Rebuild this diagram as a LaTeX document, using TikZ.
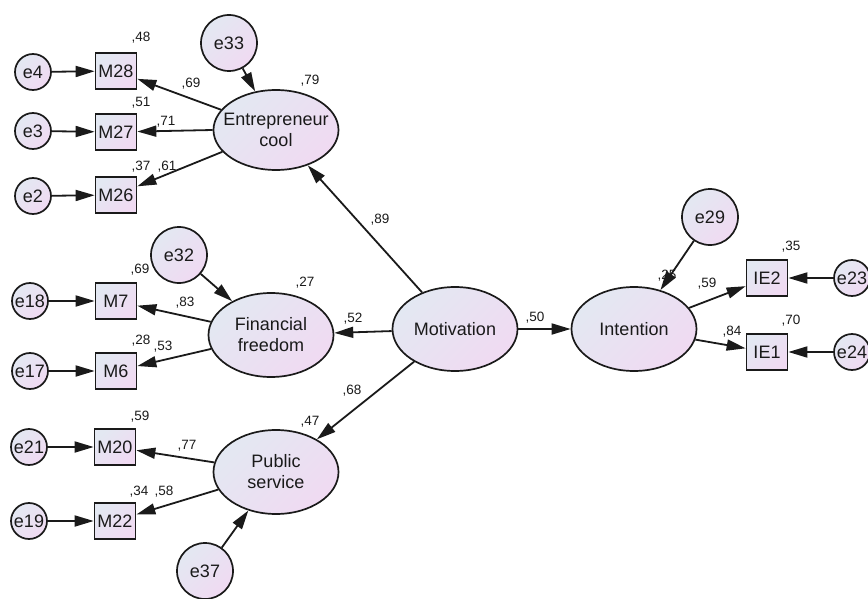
\documentclass[tikz,border=0pt]{standalone}
\usepackage{fontspec}
\setmainfont{Liberation Sans}
\usetikzlibrary{arrows.meta,shapes.geometric}
\definecolor{fillA}{HTML}{E3E8F2}
\definecolor{fillB}{HTML}{F0DAF2}
\definecolor{inkc}{HTML}{1A1A1A}
\begin{document}
\begin{tikzpicture}[x=1pt,y=-1pt,
 base/.style={draw=inkc,line width=1.7pt,top color=fillA,bottom color=fillB,shading angle=45,inner sep=0pt,text=inkc},
 lat/.style={base,ellipse,minimum width=125pt,minimum height=84pt,align=center,font=\fontsize{18}{21}\selectfont},
 err/.style={base,circle,minimum size=56pt,font=\fontsize{18}{21}\selectfont},
 serr/.style={base,circle,minimum size=36pt,font=\fontsize{18}{21}\selectfont},
 obs/.style={base,rectangle,minimum width=41pt,minimum height=36pt,font=\fontsize{18}{21}\selectfont},
 arr/.style={draw=inkc,line width=1.8pt,-{Triangle[length=19pt,width=11pt]}},
 lbl/.style={font=\fontsize{13.5}{15}\selectfont,inner sep=0pt,text=inkc}
]
\useasboundingbox (0,0) rectangle (868,599);
\clip (0,0) rectangle (868,599);
\fill[white] (0,0) rectangle (868,599);
% Entrepreneur cool block
\node[serr] (e4) at (33,72) {e4};
\node[serr] (e3) at (33,131) {e3};
\node[serr] (e2) at (33,196) {e2};
\node[obs] (M28) at (116,71) {M28};
\node[obs] (M27) at (116,132) {M27};
\node[obs] (M26) at (116,195) {M26};
\node[lat,minimum height=80pt,inner xsep=-9pt] (EC) at (276,130) {Entrepreneur\\cool};
\node[err] (e33) at (229,43) {e33};
% Financial freedom block
\node[err] (e32) at (179,255) {e32};
\node[serr] (e18) at (30,301) {e18};
\node[obs] (M7) at (116,301) {M7};
\node[serr] (e17) at (30,371) {e17};
\node[obs] (M6) at (116,371) {M6};
\node[lat] (FF) at (271,335) {Financial\\freedom};
% Public service block
\node[serr] (e21) at (29,447) {e21};
\node[obs] (M20) at (115,447) {M20};
\node[serr] (e19) at (29,521) {e19};
\node[obs] (M22) at (115,521) {M22};
\node[lat] (PS) at (276,472) {Public\\service};
\node[err] (e37) at (205,571) {e37};
% Motivation / Intention
\node[lat] (MO) at (455,329) {Motivation};
\node[lat] (IN) at (634,329) {Intention};
\node[err] (e29) at (710,217) {e29};
\node[obs] (IE2) at (767,278) {IE2};
\node[obs] (IE1) at (767,352) {IE1};
\node[serr] (e23) at (852,278) {e23};
\node[serr] (e24) at (852,352) {e24};
% paths
\draw[arr] (e4) -- (M28);
\draw[arr] (e3) -- (M27);
\draw[arr] (e2) -- (M26);
\draw[arr] (EC) -- (M28);
\draw[arr] (EC.west) -- (M27);
\draw[arr] (EC) -- (M26);
\draw[arr] (e33) -- (EC);
\draw[arr] (MO) -- (EC);
\draw[arr] (e32) -- (FF);
\draw[arr] (e18) -- (M7);
\draw[arr] (e17) -- (M6);
\draw[arr] (FF) -- (M7);
\draw[arr] (FF) -- (M6);
\draw[arr] (MO) -- (FF);
\draw[arr] (MO) -- (PS);
\draw[arr] (e21) -- (M20);
\draw[arr] (e19) -- (M22);
\draw[arr] (PS) -- (M20);
\draw[arr] (PS) -- (M22);
\draw[arr] (e37) -- (PS);
\draw[arr] (MO) -- (IN);
\draw[arr] (e29) -- (IN);
\draw[arr] (IN) -- (IE2);
\draw[arr] (IN) -- (IE1);
\draw[arr] (e23) -- (IE2);
\draw[arr] (e24) -- (IE1);
% labels
\node[lbl] (l48) at (141,38) {,48};
\node[lbl] (l69a) at (191,84) {,69};
\node[lbl] (l79) at (310,81) {,79};
\node[lbl] (l51) at (141,103) {,51};
\node[lbl] (l71) at (166,122) {,71};
\node[lbl] (l37) at (141,167) {,37};
\node[lbl] (l61) at (167,167) {,61};
\node[lbl] (l89) at (380,220) {,89};
\node[lbl] (l69b) at (140,270) {,69};
\node[lbl] (l83) at (185,303) {,83};
\node[lbl] (l27) at (305,283) {,27};
\node[lbl] (l52) at (353,319) {,52};
\node[lbl] (l28) at (141,341) {,28};
\node[lbl] (l53) at (163,347) {,53};
\node[lbl] (l68) at (352,391) {,68};
\node[lbl] (l47) at (310,422) {,47};
\node[lbl] (l59a) at (140,417) {,59};
\node[lbl] (l77) at (187,446) {,77};
\node[lbl] (l34) at (139,492) {,34};
\node[lbl] (l58) at (164,492) {,58};
\node[lbl] (l50) at (535,318) {,50};
\node[lbl] (l25) at (667,276) {,25};
\node[lbl] (l59b) at (707,284) {,59};
\node[lbl] (l35) at (791,247) {,35};
\node[lbl] (l84) at (732,332) {,84};
\node[lbl] (l70) at (791,321) {,70};
\end{tikzpicture}
\end{document}
